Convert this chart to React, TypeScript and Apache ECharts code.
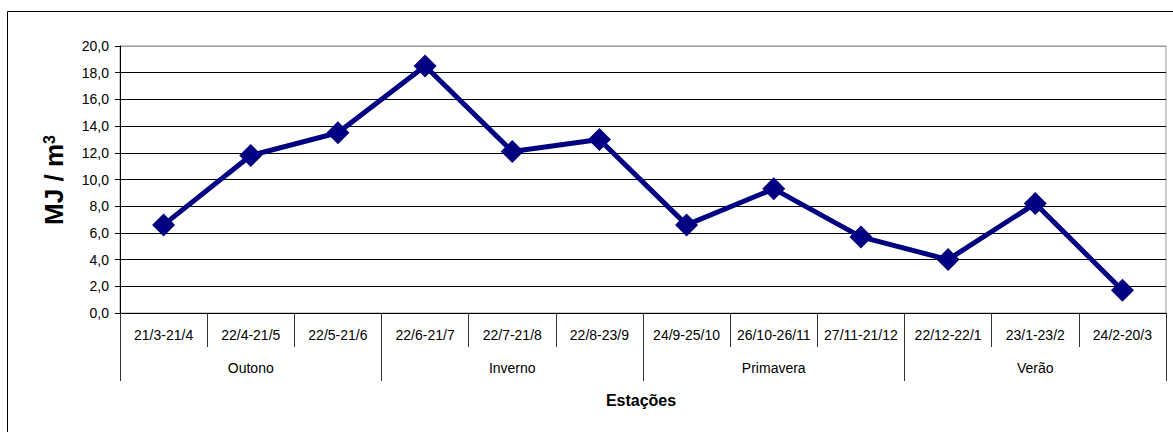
import React, { useEffect, useRef } from "react";
import * as echarts from "echarts";

const categories = [
  "21/3-21/4", "22/4-21/5", "22/5-21/6",
  "22/6-21/7", "22/7-21/8", "22/8-23/9",
  "24/9-25/10", "26/10-26/11", "27/11-21/12",
  "22/12-22/1", "23/1-23/2", "24/2-20/3",
];
const seasons = ["Outono", "Inverno", "Primavera", "Verão"];
const values = [6.6, 11.8, 13.5, 18.5, 12.1, 13.0, 6.6, 9.3, 5.7, 4.0, 8.2, 1.7];
const yMin = 0;
const yMax = 20;
const yStep = 2;
const yName = "MJ / m";
const yNameSup = "3";
const xName = "Estações";

const FONT = "'Liberation Sans', Arial, sans-serif";

export default function App() {
  const ref = useRef<HTMLDivElement>(null);
  useEffect(() => {
    if (!ref.current) return;
    const chart = echarts.init(ref.current, undefined, { renderer: "svg" });
    const splitColors: string[] = [];
    for (let v = yMin; v <= yMax; v += yStep) splitColors.push(v === yMax ? "#999999" : "#000000");
    chart.setOption({
      animation: false,
      backgroundColor: "#ffffff",
      textStyle: { fontFamily: FONT },
      grid: {
        left: 120,
        top: 46,
        right: 7,
        bottom: 119,
        show: true,
        borderColor: "#999999",
        borderWidth: 1,
        backgroundColor: "transparent",
      },
      xAxis: [
        {
          type: "category",
          position: "bottom",
          data: categories,
          boundaryGap: true,
          axisLine: { show: true, lineStyle: { color: "#000000", width: 1 } },
          axisTick: { show: true, interval: 0, length: 34, lineStyle: { color: "#333333" } },
          axisLabel: { interval: 0, margin: 15, fontSize: 14, color: "#000000", fontFamily: FONT },
          splitLine: { show: false },
        },
        {
          type: "category",
          position: "bottom",
          data: seasons,
          boundaryGap: true,
          axisLine: { show: false },
          axisTick: { show: true, interval: 0, length: 68, lineStyle: { color: "#333333" } },
          axisLabel: { interval: 0, margin: 48, fontSize: 14, color: "#000000", fontFamily: FONT },
          splitLine: { show: false },
        },
      ],
      yAxis: {
        type: "value",
        min: yMin,
        max: yMax,
        interval: yStep,
        axisLine: { show: true, lineStyle: { color: "#000000", width: 1 } },
        axisTick: { show: true, length: 5, lineStyle: { color: "#000000" } },
        axisLabel: {
          margin: 11,
          fontSize: 14,
          color: "#000000",
          fontFamily: FONT,
          formatter: (v: number) => v.toFixed(1).replace(".", ","),
        },
        splitLine: { show: true, lineStyle: { color: splitColors, width: 1 } },
      },
      graphic: [
        {
          type: "rect",
          shape: { x: 7.5, y: 11.5, width: 1200, height: 500 },
          style: { fill: "none", stroke: "#000000", lineWidth: 1 },
          silent: true,
        },
        {
          type: "text",
          x: 54,
          y: 180,
          rotation: Math.PI / 2,
          style: {
            text: `{a|${yName}}{s|${yNameSup}}`,
            align: "center",
            verticalAlign: "middle",
            rich: {
              a: { fontSize: 26, fontWeight: "bold", fontFamily: FONT, fill: "#000000" },
              s: { fontSize: 16, fontWeight: "bold", fontFamily: FONT, fill: "#000000", verticalAlign: "top" },
            },
          },
        },
        {
          type: "text",
          x: 641,
          y: 400,
          style: {
            text: xName,
            align: "center",
            verticalAlign: "middle",
            fontSize: 16,
            fontWeight: "bold",
            fontFamily: FONT,
            fill: "#000000",
          },
        },
      ],
      series: [
        {
          type: "line",
          xAxisIndex: 0,
          data: values,
          symbol: "diamond",
          symbolSize: 23,
          lineStyle: { color: "#000080", width: 5 },
          itemStyle: { color: "#000080" },
          z: 5,
        },
      ],
    });
    return () => chart.dispose();
  }, []);
  return (
    <div
      ref={ref}
      style={{ position: "absolute", left: 0, top: 0, width: 1173, height: 432 }}
    />
  );
}
